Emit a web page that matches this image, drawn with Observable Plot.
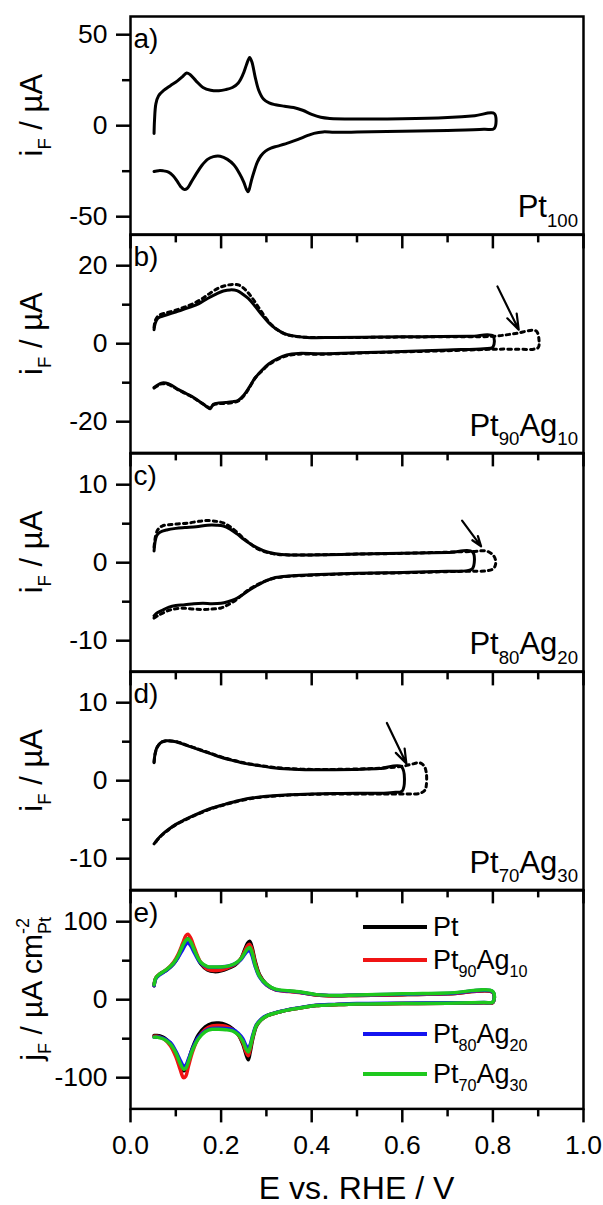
<!DOCTYPE html>
<html><head><meta charset="utf-8">
<script src="https://cdn.jsdelivr.net/npm/d3@7"></script>
<script src="https://cdn.jsdelivr.net/npm/@observablehq/plot@0.6"></script>
<style>
body{margin:0;background:#fff;}
#root{position:relative;width:603px;height:1205px;overflow:hidden;font-family:"Liberation Sans",Arial,sans-serif;background:#fff;}
.pnl{position:absolute;left:0;}
.pnl svg{overflow:visible;}
#ov{position:absolute;left:0;top:0;pointer-events:none;overflow:visible;}
</style></head><body><div id="root"></div><script>
// ---------- data ----------
const xMajorTicks = [0, 0.2, 0.4, 0.6, 0.8, 1.0];
const xMinorTicks = [0.1, 0.3, 0.5, 0.7, 0.9];

// panel a: Pt100
const aAnE = [0.052,0.053,0.056,0.062,0.074,0.088,0.103,0.115,0.124,0.132,0.145,0.16,0.177,0.195,0.21,0.225,0.238,0.248,0.256,0.263,0.268,0.275,0.283,0.294,0.306,0.32,0.34,0.36,0.38,0.4,0.42,0.44,0.5,0.6,0.7,0.76,0.803];
const aAnI = [-4.3,3,12,16.5,19.5,22,24.5,27,29,28,24.5,21,19.5,19.2,19.8,21,23.5,28,33.5,37.5,35,27,19.5,14.5,12.5,11.5,10.7,10,8.5,6.2,4.6,4,3.7,3.8,4.5,5.5,6.7];
const aCaE = [0.803,0.78,0.7,0.6,0.5,0.45,0.425,0.405,0.39,0.37,0.35,0.325,0.31,0.298,0.288,0.28,0.273,0.267,0.262,0.2595,0.256,0.25,0.24,0.228,0.214,0.198,0.183,0.17,0.157,0.145,0.134,0.125,0.118,0.111,0.103,0.094,0.084,0.072,0.062,0.052];
const aCaI = [-1.5,-2.0,-2.6,-3.1,-3.5,-3.6,-3.4,-4.2,-5.5,-7.5,-9.3,-11.2,-12.3,-14,-16.5,-20,-25,-30,-35,-36.3,-35,-31,-26,-21.5,-18.5,-16.8,-17,-18.5,-22,-26.5,-31,-34.5,-35,-33.5,-30.5,-27.5,-25.5,-24.8,-24.7,-25.2];

// panel b: Pt90Ag10
const bSolAnE = [0.052,0.054,0.06,0.075,0.09,0.11,0.13,0.15,0.17,0.19,0.205,0.22,0.235,0.248,0.26,0.275,0.29,0.305,0.32,0.34,0.36,0.39,0.45,0.55,0.65,0.75,0.80];
const bSolAnI = [3.6,5,6.5,7.2,7.8,8.5,9.3,10.2,11.6,12.8,13.5,13.8,13.6,12.7,11.6,9.6,7.4,5.4,3.9,2.6,2.0,1.6,1.6,1.7,1.8,1.9,2.0];
const bSolCaE = [0.80,0.78,0.7,0.6,0.5,0.42,0.37,0.345,0.325,0.305,0.29,0.275,0.262,0.25,0.238,0.225,0.21,0.195,0.183,0.176,0.17,0.162,0.15,0.135,0.12,0.105,0.09,0.078,0.068,0.06,0.052];
const bSolCaI = [-0.9,-1.3,-1.6,-2.0,-2.3,-2.6,-2.5,-2.9,-3.8,-5.2,-6.8,-8.8,-11.2,-13.2,-14.5,-14.9,-15.1,-15.2,-15.5,-16.7,-16.3,-15.6,-14.6,-13.5,-12.6,-11.7,-10.6,-10.1,-10.1,-10.6,-11.2];
const bDotAnE = [0.052,0.055,0.062,0.075,0.095,0.115,0.135,0.155,0.175,0.195,0.21,0.225,0.24,0.252,0.265,0.28,0.295,0.31,0.325,0.345,0.37,0.4,0.5,0.6,0.7,0.8,0.85,0.895,0.902];
const bDotAnI = [4.2,6,7.2,7.8,8.4,9.2,10.1,11.3,12.9,14.3,14.9,15.2,15.0,14.0,12.3,9.8,7.2,5.0,3.5,2.3,1.8,1.6,1.6,1.7,1.8,1.9,2.6,3.3,0.6];
const bDotCaE = [0.9,0.89,0.85,0.81,0.78,0.7,0.6,0.5,0.42,0.37,0.345,0.325,0.305,0.29,0.275,0.262,0.25,0.238,0.225,0.21,0.195,0.183,0.176,0.17,0.162,0.15,0.135,0.12,0.105,0.09,0.078,0.068,0.06,0.052];
const bDotCaI = [-1.0,-1.4,-1.4,-1.4,-1.5,-1.8,-2.1,-2.4,-2.7,-2.7,-3.1,-4.0,-5.4,-7.0,-8.8,-11.4,-13.4,-14.7,-15.1,-15.3,-15.4,-15.7,-16.5,-16.2,-15.6,-14.7,-13.6,-12.7,-11.8,-10.8,-10.3,-10.3,-10.8,-11.4];
const bArrowE = [0.81, 0.857];
const bArrowI = [14.7, 3.6];

// panel c: Pt80Ag20
const cSolAnE = [0.052,0.054,0.058,0.065,0.08,0.1,0.12,0.145,0.17,0.19,0.205,0.22,0.235,0.25,0.265,0.28,0.3,0.32,0.35,0.4,0.5,0.6,0.7,0.755];
const cSolAnI = [1.5,2.6,3.5,3.9,4.2,4.4,4.5,4.6,4.8,4.8,4.7,4.3,3.7,3.0,2.4,1.9,1.4,1.15,1.0,1.0,1.1,1.2,1.3,1.38];
const cSolCaE = [0.755,0.74,0.7,0.6,0.5,0.4,0.35,0.32,0.3,0.28,0.26,0.245,0.23,0.215,0.2,0.18,0.16,0.14,0.12,0.1,0.085,0.07,0.06,0.052];
const cSolCaI = [-0.75,-1.05,-1.1,-1.25,-1.35,-1.55,-1.7,-1.9,-2.3,-2.9,-3.6,-4.2,-4.7,-5.0,-5.2,-5.25,-5.2,-5.25,-5.4,-5.5,-5.7,-6.1,-6.4,-6.8];
const cDotAnE = [0.052,0.055,0.06,0.07,0.09,0.11,0.13,0.15,0.17,0.19,0.205,0.22,0.235,0.25,0.265,0.28,0.3,0.32,0.35,0.4,0.5,0.6,0.7,0.76,0.785,0.8,0.806];
const cDotAnI = [2.0,3.3,4.2,4.7,4.9,5.0,5.1,5.3,5.4,5.3,5.1,4.6,3.9,3.1,2.4,1.8,1.35,1.1,1.0,1.0,1.1,1.2,1.35,1.45,1.5,1.0,0.3];
const cDotCaE = [0.805,0.8,0.785,0.765,0.74,0.7,0.6,0.5,0.4,0.35,0.32,0.3,0.28,0.26,0.245,0.23,0.215,0.2,0.18,0.16,0.14,0.12,0.1,0.085,0.07,0.06,0.052];
const cDotCaI = [-0.4,-0.8,-1.05,-1.1,-1.1,-1.15,-1.3,-1.4,-1.6,-1.75,-1.95,-2.3,-2.8,-3.5,-4.2,-4.9,-5.4,-5.8,-5.95,-6.0,-5.95,-5.85,-5.9,-6.1,-6.5,-6.8,-7.1];
const cArrowE = [0.732, 0.774];
const cArrowI = [5.4, 2.1];

// panel d: Pt70Ag30
const dSolAnE = [0.052,0.054,0.058,0.065,0.075,0.085,0.1,0.12,0.14,0.16,0.18,0.2,0.225,0.25,0.28,0.31,0.35,0.4,0.45,0.5,0.55,0.598];
const dSolAnI = [2.3,3.4,4.2,4.8,5.1,5.1,5.0,4.6,4.2,3.8,3.4,3.0,2.6,2.25,1.95,1.7,1.5,1.4,1.4,1.45,1.55,1.8];
const dSolCaE = [0.6,0.58,0.55,0.5,0.45,0.4,0.35,0.3,0.27,0.24,0.21,0.18,0.16,0.14,0.12,0.1,0.085,0.07,0.06,0.052];
const dSolCaI = [-1.3,-1.5,-1.6,-1.6,-1.65,-1.7,-1.8,-2.0,-2.2,-2.55,-3.0,-3.5,-3.95,-4.45,-5.0,-5.6,-6.2,-6.9,-7.5,-8.1];
const dDotAnE = [0.052,0.055,0.06,0.068,0.078,0.09,0.105,0.12,0.14,0.16,0.18,0.2,0.225,0.25,0.28,0.31,0.35,0.4,0.45,0.5,0.55,0.6,0.62,0.638,0.648,0.653,0.653];
const dDotAnI = [2.4,3.6,4.4,4.9,5.1,5.1,4.95,4.65,4.25,3.85,3.45,3.05,2.65,2.3,2.0,1.75,1.55,1.45,1.45,1.5,1.6,1.85,2.1,2.3,1.9,1.0,-0.6];
const dDotCaE = [0.65,0.64,0.62,0.6,0.55,0.5,0.45,0.4,0.35,0.3,0.27,0.24,0.21,0.18,0.16,0.14,0.12,0.1,0.085,0.07,0.06,0.052];
const dDotCaI = [-1.2,-1.6,-1.7,-1.7,-1.7,-1.7,-1.7,-1.75,-1.85,-2.05,-2.25,-2.6,-3.05,-3.55,-4.0,-4.5,-5.05,-5.65,-6.25,-6.95,-7.55,-8.15];
const dArrowE = [0.566, 0.609];
const dArrowI = [7.4, 2.2];

// panel e: normalized current density, four catalysts
const eSeries = ["Pt", "Pt90Ag10", "Pt80Ag20", "Pt70Ag30"];
const eColors = ["#000000", "#f01414", "#1414f0", "#1ec81e"];
const eAnE = [0.052,0.056,0.065,0.08,0.095,0.105,0.115,0.122,0.127,0.133,0.142,0.155,0.17,0.185,0.2,0.215,0.23,0.243,0.252,0.258,0.263,0.268,0.275,0.285,0.3,0.32,0.35,0.38,0.41,0.45,0.5,0.6,0.7,0.8];
const eCaE = [0.8,0.78,0.7,0.6,0.5,0.45,0.41,0.38,0.35,0.32,0.3,0.288,0.278,0.27,0.264,0.26,0.255,0.248,0.238,0.225,0.21,0.195,0.18,0.165,0.15,0.138,0.128,0.122,0.117,0.11,0.1,0.088,0.075,0.065,0.058,0.052];
const ePtAn  = [18,28,33,38,46,55,68,76,78,74,62,46,38,36,37,40,44,52,64,72,75,68,50,32,20,13,11,9,6,5,5.5,6.5,7.5,9.5];
const ePtCa  = [-3.5,-4,-4.5,-5,-5.5,-6.5,-7.5,-10,-13,-17,-21,-26,-34,-50,-68,-77,-70,-57,-45,-37,-32,-30,-30.5,-35,-45,-60,-78,-90,-91,-82,-68,-56,-49,-46.5,-46,-46];
const e90An  = [18,28,33,39,48,58,72,82,84,79,65,48,39,37.5,38,41,45,52,62,69,71,65,48,31,19,12.5,10.5,8.5,6,5,5.5,6.5,7.5,9.5];
const e90Ca  = [-3.5,-4,-4.5,-5,-5.5,-6.5,-7.5,-10,-13,-17,-21,-26,-33,-48,-64,-72,-67,-55,-45,-38,-34,-33,-33.5,-38,-49,-65,-85,-98,-100,-90,-73,-59,-51,-48,-47,-47];
const e80An  = [18,27,32,38,46,54,64,71,73,69,59,47,42,41.5,42,43,46,51,58,62,63,57,43,29,19,13,11,9,6.5,5.5,6,7,8,10];
const e80Ca  = [-3,-3.5,-4,-4.5,-5,-6,-7,-9.5,-12.5,-16.5,-20.5,-25,-32,-45,-58,-63,-59,-50,-43,-38,-37,-36.5,-37,-40,-48,-61,-76,-84,-85,-78,-66,-55,-50,-48,-48,-48];
const e70An  = [19,28,33,39,47,56,69,76,78,74,62,48,42.5,42,42,43,46,52,60,65,67,61,45,30,20,13.5,11.5,9.5,6.5,5.5,6,7.5,8.5,10.5];
const e70Ca  = [-3,-3.5,-4.5,-5,-5.5,-6.5,-7.5,-10,-13,-17,-21,-26,-33,-47,-61,-67,-63,-53,-45,-40,-38.5,-38,-38,-41,-50,-63,-79,-88,-89,-82,-68,-57,-51,-49,-48,-48];

// ---------- helpers ----------
const loop = (anE, anI, caE, caI) => anE.map((x, k) => ({x, y: anI[k]})).concat(caE.map((x, k) => ({x, y: caI[k]})));
const arrowRow = (E, I) => [{x1: E[0], y1: I[0], x2: E[1], y2: I[1]}];

const W = 603, H = 1205, FRAME_L = 130, FRAME_R = 583, TOP0 = 16, PH = 218.4, PAD = 16;
const FONT = "'Liberation Sans', Arial, sans-serif";
const root = document.getElementById("root");

const solid = (data, sw = 3) => Plot.line(data, {x: "x", y: "y", stroke: "black", strokeWidth: sw, curve: "catmull-rom"});
const dotted = (data) => Plot.line(data, {x: "x", y: "y", stroke: "black", strokeWidth: 3, strokeDasharray: "3.5,4", curve: "catmull-rom"});
const arrow = (row) => Plot.arrow(row, {x1: "x1", y1: "y1", x2: "x2", y2: "y2", stroke: "black", strokeWidth: 2.2, headLength: 13, headAngle: 38});

const panels = [
  {letter: "a)", domain: [-60, 60], major: [-50, 0, 50], minor: [-25, 25],
   marks: [solid(loop(aAnE, aAnI, aCaE, aCaI))]},
  {letter: "b)", domain: [-28, 28], major: [-20, 0, 20], minor: [-10, 10],
   marks: [dotted(loop(bDotAnE, bDotAnI, bDotCaE, bDotCaI)), solid(loop(bSolAnE, bSolAnI, bSolCaE, bSolCaI)), arrow(arrowRow(bArrowE, bArrowI))]},
  {letter: "c)", domain: [-14, 14], major: [-10, 0, 10], minor: [-5, 5],
   marks: [dotted(loop(cDotAnE, cDotAnI, cDotCaE, cDotCaI)), solid(loop(cSolAnE, cSolAnI, cSolCaE, cSolCaI)), arrow(arrowRow(cArrowE, cArrowI))]},
  {letter: "d)", domain: [-14, 14], major: [-10, 0, 10], minor: [-5, 5],
   marks: [dotted(loop(dDotAnE, dDotAnI, dDotCaE, dDotCaI)), solid(loop(dSolAnE, dSolAnI, dSolCaE, dSolCaI)), arrow(arrowRow(dArrowE, dArrowI))]},
  {letter: "e)", domain: [-140, 140], major: [-100, 0, 100], minor: [-50, 50],
   marks: [
     [ePtAn, ePtCa], [e90An, e90Ca], [e80An, e80Ca], [e70An, e70Ca]
   ].map(([an, ca], k) => Plot.line(loop(eAnE, an, eCaE, ca), {x: "x", y: "y", stroke: eColors[k], strokeWidth: 3.5, curve: "catmull-rom"}))}
];

panels.forEach((cfg, i) => {
  const top = TOP0 + i * PH;
  const last = i === panels.length - 1;
  const mb = last ? H - (top + PH) : PAD;
  const svg = Plot.plot({
    width: W, height: PAD + PH + mb,
    marginTop: PAD, marginBottom: mb, marginLeft: FRAME_L, marginRight: W - FRAME_R,
    x: {domain: [0, 1]},
    y: {domain: cfg.domain},
    style: {background: "transparent", overflow: "visible", fontFamily: FONT, fontSize: "26.5px", color: "black"},
    marks: [
      Plot.axisY({ticks: cfg.minor, tickSize: 8, strokeWidth: 2.5, tickFormat: () => "", label: null}),
      Plot.axisY({ticks: cfg.major, tickSize: 14, tickPadding: 9, strokeWidth: 2.5, tickFormat: d => String(d), label: null}),
      Plot.axisX({ticks: xMinorTicks, tickSize: 8, strokeWidth: 2.5, tickFormat: () => "", label: null}),
      Plot.axisX({ticks: xMajorTicks, tickSize: 14, tickPadding: 12, strokeWidth: 2.5, tickFormat: last ? d => d.toFixed(1) : () => "", label: null}),
      ...cfg.marks,
      Plot.frame({stroke: "black", strokeWidth: 2.5}),
      Plot.text([cfg.letter], {text: d => d, frameAnchor: "top-left", dx: 3, dy: 12, fontSize: 28, fill: "black"})
    ]
  });
  const div = document.createElement("div");
  div.className = "pnl";
  div.style.top = (top - PAD) + "px";
  div.appendChild(svg);
  root.appendChild(div);
});

// ---------- overlay text (subscripts / superscripts) ----------
const NS = "http://www.w3.org/2000/svg";
const ov = document.createElementNS(NS, "svg");
ov.setAttribute("id", "ov"); ov.setAttribute("width", W); ov.setAttribute("height", H);
ov.setAttribute("font-family", FONT);
root.appendChild(ov);

function rich(parts, {x, y, size, anchor = "start", rotate = 0}) {
  const t = document.createElementNS(NS, "text");
  t.setAttribute("transform", `translate(${x},${y}) rotate(${rotate})`);
  t.setAttribute("text-anchor", anchor);
  t.setAttribute("font-size", size);
  t.setAttribute("fill", "black");
  t.style.whiteSpace = "pre";
  ov.appendChild(t);
  let shift = 0, prev = null;
  for (const [s, kind] of parts) {
    const ts = document.createElementNS(NS, "tspan");
    ts.textContent = s;
    const target = (kind === "sub" || kind === "stack") ? 0.3 * size : kind === "sup" ? -0.42 * size : 0;
    ts.setAttribute("dy", target - shift);
    shift = target;
    if (kind !== "n") ts.setAttribute("font-size", 0.6 * size);
    t.appendChild(ts);
    if (kind === "stack" && prev) ts.setAttribute("dx", -prev.getComputedTextLength());
    prev = ts;
  }
  return t;
}

const comps = [
  [["Pt", "n"], ["100", "sub"]],
  [["Pt", "n"], ["90", "sub"], ["Ag", "n"], ["10", "sub"]],
  [["Pt", "n"], ["80", "sub"], ["Ag", "n"], ["20", "sub"]],
  [["Pt", "n"], ["70", "sub"], ["Ag", "n"], ["30", "sub"]]
];
comps.forEach((p, i) => rich(p, {x: 578, y: TOP0 + (i + 1) * PH - 17, size: 31, anchor: "end"}));

for (let i = 0; i < 4; i++) {
  rich([["i", "n"], ["F", "sub"], [" / µA", "n"]], {x: 42, y: TOP0 + i * PH + PH / 2 - 10, size: 31, anchor: "middle", rotate: -90});
}
rich([["j", "n"], ["F", "sub"], [" / µA cm", "n"], ["-2", "sup"], ["Pt", "stack"]], {x: 42, y: TOP0 + 4 * PH + PH / 2 - 10, size: 30, anchor: "middle", rotate: -90});
rich([["E vs. RHE / V", "n"]], {x: (FRAME_L + FRAME_R) / 2, y: 1199, size: 32, anchor: "middle"});

// legend of panel e
const legendRows = [927, 960, 1034, 1074];
const legendLabels = [
  [["Pt", "n"]],
  [["Pt", "n"], ["90", "sub"], ["Ag", "n"], ["10", "sub"]],
  [["Pt", "n"], ["80", "sub"], ["Ag", "n"], ["20", "sub"]],
  [["Pt", "n"], ["70", "sub"], ["Ag", "n"], ["30", "sub"]]
];
legendRows.forEach((ly, k) => {
  const ln = document.createElementNS(NS, "line");
  ln.setAttribute("x1", 363); ln.setAttribute("x2", 427);
  ln.setAttribute("y1", ly); ln.setAttribute("y2", ly);
  ln.setAttribute("stroke", eColors[k]); ln.setAttribute("stroke-width", 4);
  ov.appendChild(ln);
  rich(legendLabels[k], {x: 433, y: ly + 9, size: 27});
});
</script></body></html>
